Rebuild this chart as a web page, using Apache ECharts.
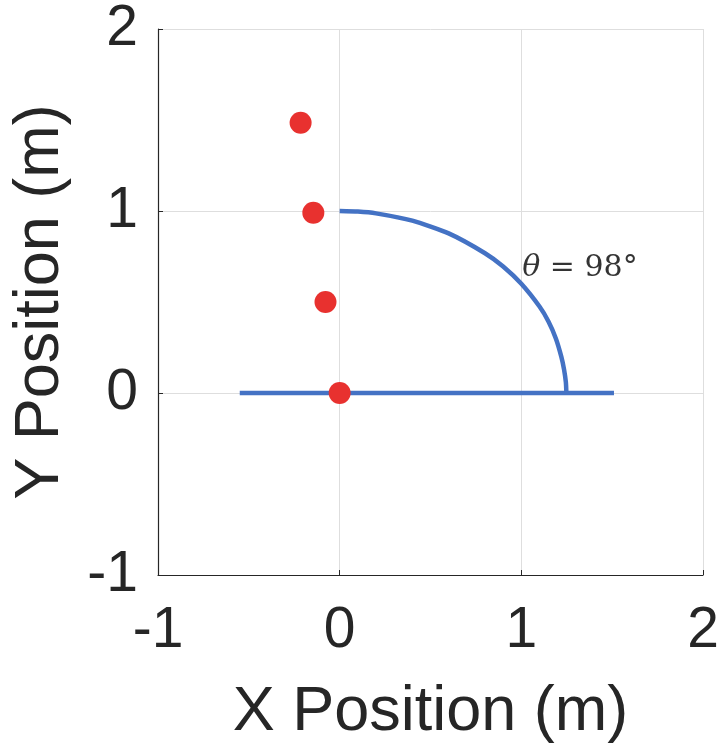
<!DOCTYPE html>
<html>
<head>
<meta charset="utf-8">
<script src="https://cdn.jsdelivr.net/npm/echarts@6/dist/echarts.min.js"></script>
<style>html,body{margin:0;padding:0;background:#fff}#c{width:722px;height:753px}</style>
</head>
<body>
<div id="c"></div>
<script>
// Red marker positions (m)
const pointsX = [-0.215, -0.145, -0.078, 0.0];
const pointsY = [1.485, 0.99, 0.5, 0.0];
// Baseline (m)
const baseX = [-0.55, 1.51];
const baseY = [0, 0];
// Arc (m)
const arcX = [0.0, 0.1, 0.2, 0.4, 0.6, 0.8, 0.9, 1.0, 1.1, 1.15, 1.19, 1.22, 1.235, 1.245, 1.248];
const arcY = [1.0, 0.997, 0.987, 0.947, 0.877, 0.768, 0.695, 0.6, 0.475, 0.392, 0.3, 0.2, 0.13, 0.06, 0.0];
// Annotation
const annoText = '98°';
const annoPos = [1.005, 0.687];
const ticks = [-1, 0, 1, 2];

const zip = (a, b) => a.map((v, i) => [v, b[i]]);
const chart = echarts.init(document.getElementById('c'), null, {renderer: 'canvas'});
const font = 'Liberation Sans, Arial, sans-serif';
const axisCommon = {
  type: 'value', min: -1, max: 2, interval: 1,
  axisLine: {show: true, onZero: false, lineStyle: {color: '#262626', width: 1.2}},
  axisTick: {show: true, inside: true, length: 5, lineStyle: {color: '#262626'}},
  splitLine: {show: true, lineStyle: {color: '#dedede', width: 1}},
  axisLabel: {fontFamily: font, fontSize: 57, color: '#262626'},
  nameLocation: 'middle',
  nameTextStyle: {fontFamily: font, fontSize: 63, color: '#262626'}
};
chart.setOption({
  animation: false,
  backgroundColor: '#fff',
  grid: {left: 158, right: 19, top: 29, bottom: 178, containLabel: false, outerBoundsMode: 'none'},
  xAxis: Object.assign({}, axisCommon, {
    name: 'X Position (m)', nameGap: 106,
    axisLabel: Object.assign({}, axisCommon.axisLabel, {margin: 28})
  }),
  yAxis: Object.assign({}, axisCommon, {
    name: 'Y Position (m)', nameGap: 86,
    axisLabel: Object.assign({}, axisCommon.axisLabel, {margin: 20})
  }),
  series: [
    {type: 'line', data: zip(baseX, baseY), symbol: 'none', lineStyle: {color: '#4472C4', width: 4.5}, z: 2},
    {type: 'line', data: zip(arcX, arcY), symbol: 'none', smooth: 0.2, lineStyle: {color: '#4472C4', width: 4.5}, z: 2},
    {type: 'scatter', data: zip(pointsX, pointsY), symbolSize: 22, itemStyle: {color: '#E8312F', opacity: 1}, z: 3},
    {type: 'scatter', data: [annoPos], symbolSize: 0, silent: true,
     label: {show: true, position: 'right', distance: 0,
       formatter: '{t|θ}{e| = ' + annoText + '}',
       rich: {
         t: {fontFamily: 'DejaVu Serif, serif', fontStyle: 'italic', fontSize: 30, color: '#000'},
         e: {fontFamily: 'DejaVu Serif, serif', fontSize: 30, color: '#000'}
       }}}
  ]
});
</script>
</body>
</html>
